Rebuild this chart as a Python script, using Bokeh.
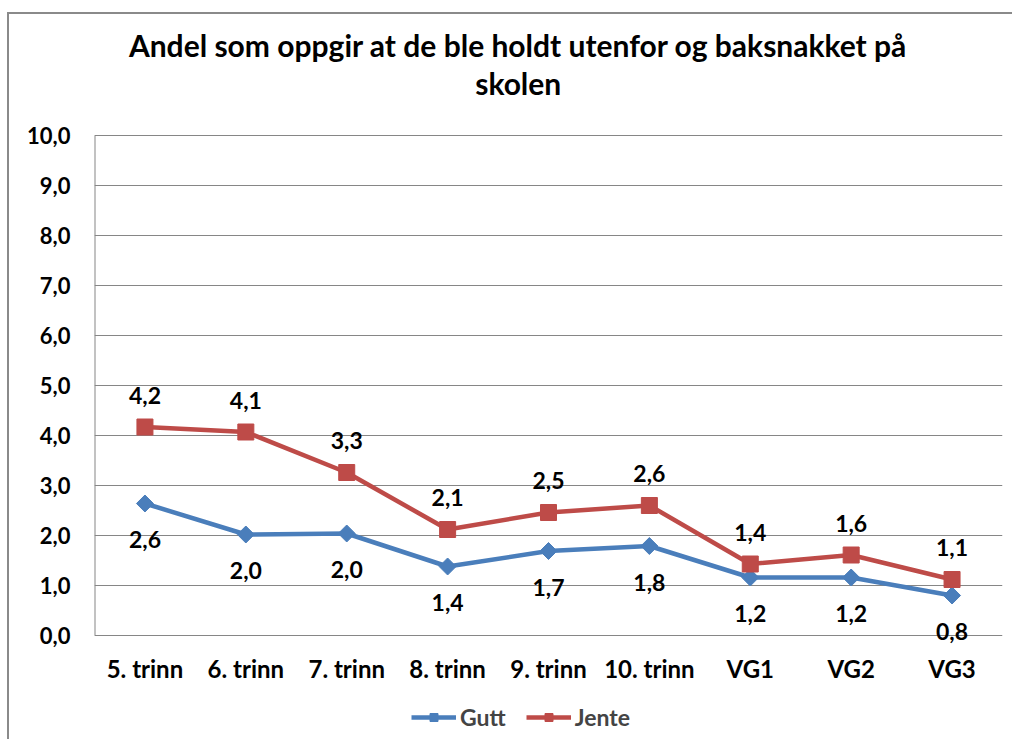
from bokeh.plotting import figure
from bokeh.models import ColumnDataSource, Label, Legend, LegendItem, FactorRange, Range1d, FixedTicker, CustomJSTickFormatter
from bokeh.core.properties import value
from bokeh.embed import file_html
from bokeh.resources import INLINE

categories = ["5. trinn", "6. trinn", "7. trinn", "8. trinn", "9. trinn", "10. trinn", "VG1", "VG2", "VG3"]
gutt = [2.64, 2.02, 2.04, 1.38, 1.69, 1.79, 1.16, 1.16, 0.80]
jente = [4.17, 4.07, 3.26, 2.12, 2.46, 2.60, 1.43, 1.61, 1.12]
y_ticks = [0, 1, 2, 3, 4, 5, 6, 7, 8, 9, 10]
title_lines = ["Andel som oppgir at de ble holdt utenfor og baksnakket på", "skolen"]

FONT = "Lato"
BLUE = "#4A7EBB"
RED = "#BE4B48"
GRID = "#868686"

def fmt(v):
    return f"{v:.1f}".replace(".", ",")

src = ColumnDataSource(dict(
    x=categories, gutt=gutt, jente=jente,
    gl=[fmt(v) for v in gutt], jl=[fmt(v) for v in jente],
))

# The frame covers the whole chart box; the value axis runs 0..10 inside it.
p = figure(frame_width=908, frame_height=725, x_range=FactorRange(*categories), y_range=Range1d(-2.08, 12.42),
           output_backend="svg", toolbar_location=None,
           min_border_left=85, min_border_right=10, min_border_top=0, min_border_bottom=0,
           styles={"border-left": "2px solid #8a8a8a", "border-top": "2px solid #8a8a8a",
                   "border-right": "none", "border-bottom": "none",
                   "margin-left": "7px", "margin-top": "12px"})
p.outline_line_color = None
p.background_fill_color = "white"
p.border_fill_color = "white"

p.xgrid.grid_line_color = None
p.ygrid.grid_line_color = GRID
p.ygrid.grid_line_width = 1
p.ygrid.ticker = FixedTicker(ticks=y_ticks)

p.yaxis.ticker = FixedTicker(ticks=y_ticks)
p.yaxis.formatter = CustomJSTickFormatter(code="return tick.toFixed(1).replace('.', ',');")
p.xaxis.fixed_location = 0
for ax in (p.xaxis[0], p.yaxis[0]):
    ax.axis_line_color = None
    ax.major_tick_line_color = None
    ax.minor_tick_line_color = None
    ax.major_label_text_font = FONT
    ax.major_label_text_font_style = "bold"
    ax.major_label_text_color = "black"
p.yaxis.major_label_text_font_size = "22px"
p.xaxis.major_label_text_font_size = "24px"
p.yaxis.major_label_standoff = 18
p.xaxis.major_label_standoff = 12
p.x_range.range_padding = 0
p.x_range.group_padding = 0

# value axis line from 0 to 10 at the left edge of the category range
p.segment(x0=[0], y0=[y_ticks[0]], x1=[0], y1=[y_ticks[-1]], line_color=GRID, line_width=2)

gl = p.line("x", "gutt", source=src, line_color=BLUE, line_width=4.5)
gm = p.scatter("x", "gutt", source=src, marker="square", angle=0.785398, size=12,
               fill_color=BLUE, line_color=BLUE)
jl = p.line("x", "jente", source=src, line_color=RED, line_width=4.5)
jm = p.scatter("x", "jente", source=src, marker="square", size=16, fill_color=RED, line_color=RED)

p.text("x", "gutt", text="gl", source=src, text_align="center", text_baseline="middle",
       y_offset=36, text_font=value(FONT), text_font_style="bold", text_font_size="23px", text_color="black")
p.text("x", "jente", text="jl", source=src, text_align="center", text_baseline="middle",
       y_offset=-32, text_font=value(FONT), text_font_style="bold", text_font_size="23px", text_color="black")

for txt, yy in zip(title_lines, [11.82, 11.06]):
    p.add_layout(Label(x=4.2, y=yy, text=txt, text_align="center", text_baseline="middle",
                       text_font=FONT, text_font_style="bold", text_font_size="30px", text_color="black"))

legend = Legend(items=[LegendItem(label="Gutt", renderers=[gl, gm]), LegendItem(label="Jente", renderers=[jl, jm])],
                orientation="horizontal", location=(317, 8), glyph_width=45, glyph_height=20,
                label_text_font=FONT, label_text_font_style="bold", label_text_font_size="23px",
                border_line_color=None, background_fill_alpha=0, spacing=20, label_standoff=4,
                margin=0, padding=4)
p.add_layout(legend, "center")

open("out.html", "w").write(file_html(p, INLINE))
